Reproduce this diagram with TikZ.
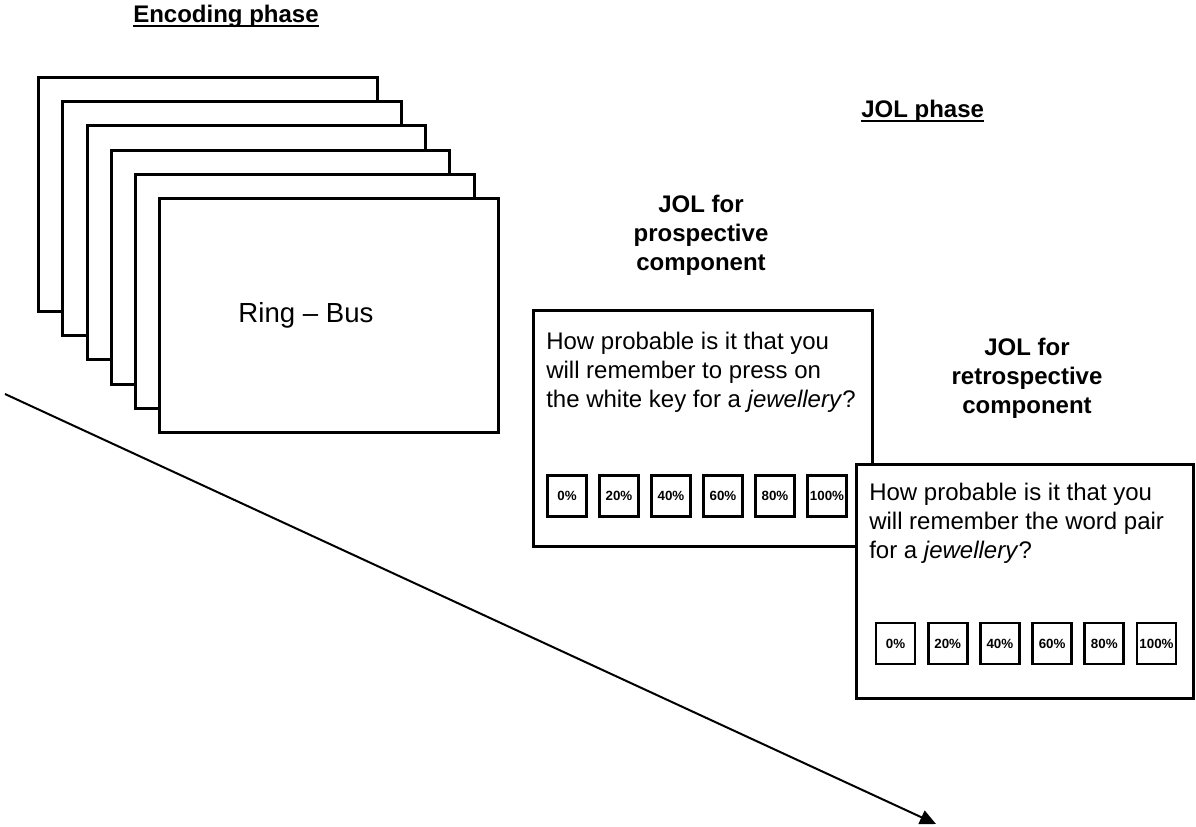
\documentclass[tikz,border=0pt]{standalone}
\usepackage{fontspec}
\setmainfont{Liberation Sans}
\usetikzlibrary{arrows.meta}

\tikzset{
  card/.style={draw, line width=2.2pt, fill=white, minimum width=254pt, minimum height=175.5pt},
  qbox/.style={draw, line width=2.2pt, fill=white, minimum width=254.25pt, minimum height=177pt},
  rate/.style={draw, line width=2.2pt, minimum width=29.25pt, minimum height=30.75pt, inner sep=0pt,
    font=\fontsize{10}{12}\selectfont\bfseries},
  head/.style={anchor=base west, inner sep=0pt, font=\fontsize{18}{21.75}\selectfont\bfseries},
  title/.style={anchor=base, align=center, inner sep=0pt, font=\fontsize{18}{21.75}\selectfont\bfseries},
  question/.style={anchor=base west, align=left, inner sep=0pt, font=\fontsize{18}{21.75}\selectfont}
}

\begin{document}
\begin{tikzpicture}[x=0.75pt,y=-0.75pt]
\useasboundingbox (0,0) rectangle (1196,827);

% time line
\coordinate (start) at (5,394);
\coordinate (end) at (936,824);
\draw [line width=1.5pt,-{Triangle[length=12pt,width=11pt]}] (start) -- (end);

% encoding phase
\node [head] (enc) at (133,23) {Encoding phase};
\draw [line width=1.2pt] ([yshift=-2.2pt]enc.base west) -- ([yshift=-2.2pt]enc.base east);

\foreach \i in {1,...,6}
  \node [card] (card\i) at ({208+24.2*(\i-1)},{194.5+24.2*(\i-1)}) {};
\node [anchor=base, inner sep=0pt, font=\fontsize{20.7}{24}\selectfont] (pair) at (306,323) {Ring -- Bus};

% JOL phase
\node [head] (jol) at (861,118) {JOL phase};
\draw [line width=1.2pt] ([yshift=-2.2pt]jol.base west) -- ([yshift=-2.2pt]jol.base east);

% prospective component (base = last line)
\node [title] (protitle) at (701,271) {JOL for\\prospective\\component};
\node [qbox] (pro) at (703,428.5) {};
\node [question] (proq) at (546,407) {How probable is it that you\\will remember to press on\\the white key for a \textit{jewellery}?};
\foreach \p [count=\k from 0] in {0,20,40,60,80,100}
  \node [rate] (pro\p) at ({567+52*\k},496) {\p\%};

% retrospective component
\node [title] (rettitle) at (1027,413) {JOL for\\retrospective\\component};
\node [qbox, minimum width=252.75pt, minimum height=175.5pt] (ret) at (1025,581.5) {};
\node [question] (retq) at (869,558) {How probable is it that you\\will remember the word pair\\for a \textit{jewellery}?};
\foreach \p [count=\k from 0] in {0,20,40,60,80,100}
  \node [rate] (ret\p) at ({895.5+52.2*\k},643.5) {\p\%};

\end{tikzpicture}
\end{document}
